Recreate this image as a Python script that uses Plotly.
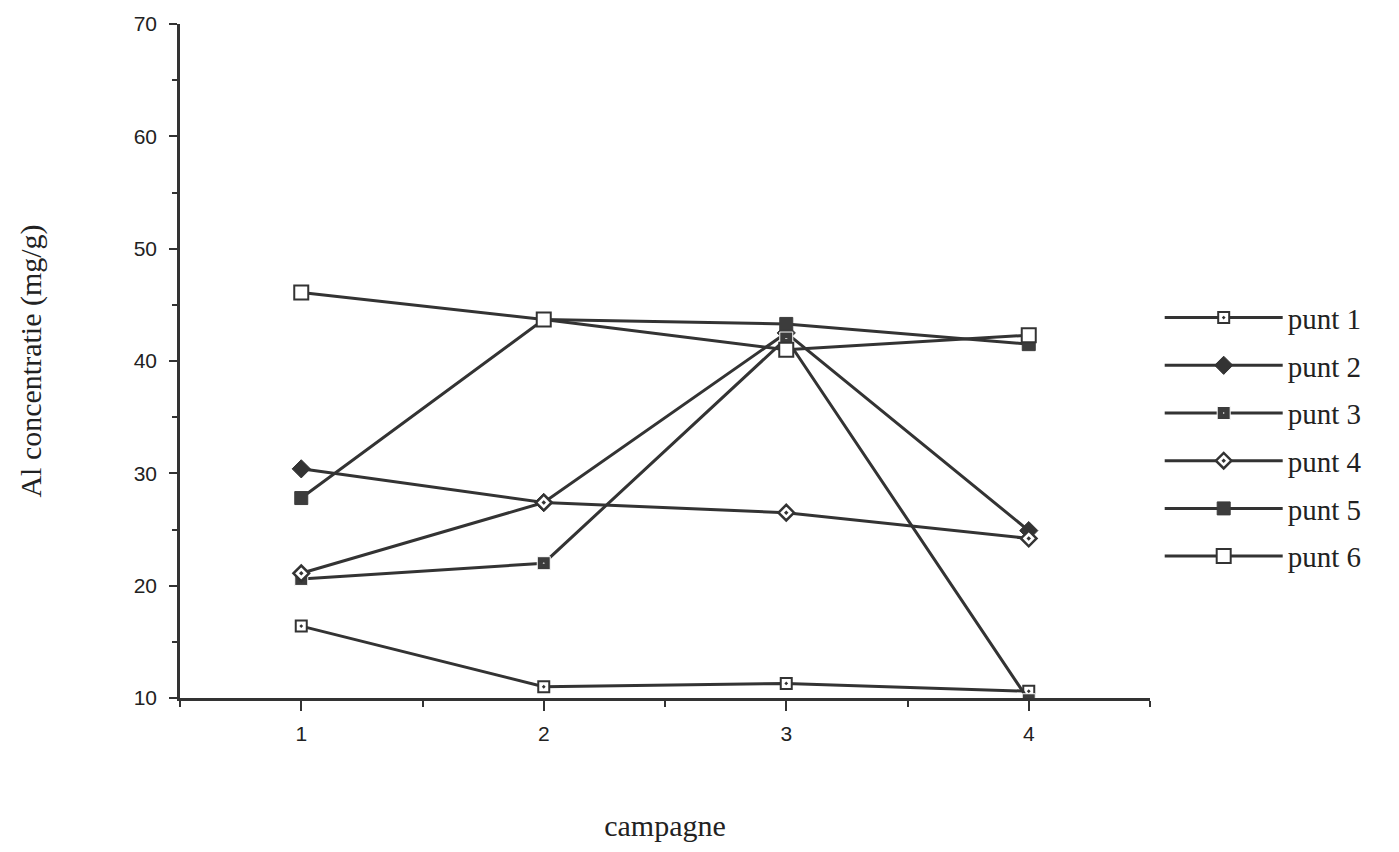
import plotly.graph_objects as go

# Sampling campaigns and Al concentration (mg/g) per sampling point
campagne = [1, 2, 3, 4]
punt_1 = [16.4, 11.0, 11.3, 10.6]
punt_2 = [30.4, 27.4, 42.5, 24.9]
punt_3 = [20.6, 22.0, 42.0, 9.8]
punt_4 = [21.1, 27.4, 26.5, 24.2]
punt_5 = [27.8, 43.7, 43.3, 41.5]
punt_6 = [46.1, 43.7, 41.0, 42.3]

series_names = ["punt 1", "punt 2", "punt 3", "punt 4", "punt 5", "punt 6"]
series_values = [punt_1, punt_2, punt_3, punt_4, punt_5, punt_6]

INK = "#333333"

# marker style per series: (symbol, fill, outline colour, outline width, size)
marker_styles = [
    ("square-dot", "white", INK, 2, 11),
    ("diamond", INK, INK, 1, 14),
    ("square-dot", "#3c3c3c", "white", 1, 13),
    ("diamond-dot", "white", INK, 2.5, 12),
    ("square", "#3c3c3c", "#3c3c3c", 1, 13),
    ("square", "white", INK, 2, 14),
]

fig = go.Figure()
for i, (name, vals, st) in enumerate(zip(series_names, series_values, marker_styles)):
    sym, fill, lc, lw, size = st
    fig.add_trace(go.Scatter(
        x=campagne, y=vals, name=name, mode="lines+markers",
        legendgroup=f"g{i}",
        line=dict(color=INK, width=3),
        marker=dict(symbol=sym, color=fill, size=size,
                    line=dict(color=lc, width=lw)),
    ))

tick_font = dict(family="Liberation Sans, Arial, sans-serif", size=21, color="#222")
title_font = dict(family="Liberation Serif, Times New Roman, serif", size=30, color="#222")

fig.update_layout(
    width=1399, height=852,
    margin=dict(l=180, r=249, t=18, b=154),
    paper_bgcolor="white", plot_bgcolor="white",
    showlegend=True,
    legend=dict(
        x=1.01, y=0.602, xanchor="left", yanchor="top",
        font=dict(family="Liberation Serif, Times New Roman, serif", size=29, color="#222"),
        itemwidth=118, traceorder="grouped", tracegroupgap=7,
        bgcolor="rgba(0,0,0,0)",
    ),
    xaxis=dict(
        range=[0.5, 4.5], tickvals=[1, 2, 3, 4], ticktext=["1", "2", "3", "4"],
        showline=True, linecolor=INK, linewidth=2.5,
        ticks="outside", ticklen=10, tickwidth=2, tickcolor=INK,
        ticklabelstandoff=5,
        minor=dict(tick0=0.5, dtick=0.5, ticks="outside", ticklen=6,
                   tickwidth=2, tickcolor=INK),
        showgrid=False, zeroline=False,
        tickfont=tick_font,
        title=dict(text="campagne", font=title_font, standoff=72),
    ),
    yaxis=dict(
        range=[10, 70], dtick=10, tick0=10,
        showline=True, linecolor=INK, linewidth=2.5,
        ticks="outside", ticklen=8, tickwidth=2, tickcolor=INK,
        ticklabelstandoff=8,
        minor=dict(dtick=5, ticks="outside", ticklen=5, tickwidth=2, tickcolor=INK),
        showgrid=False, zeroline=False,
        tickfont=tick_font,
        title=dict(text="Al concentratie (mg/g)", font=title_font, standoff=84),
    ),
)

fig.write_html("out.html")
